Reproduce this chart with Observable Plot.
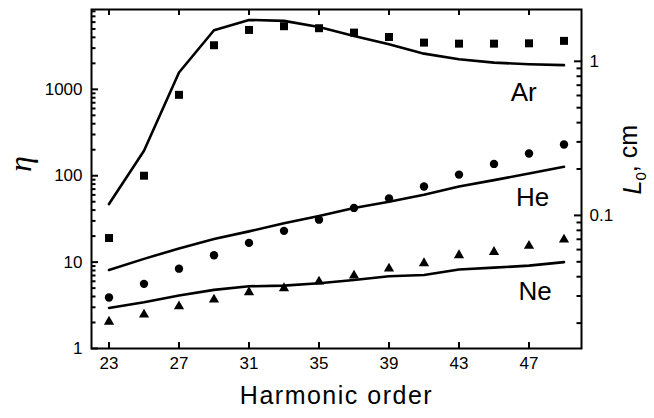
<!DOCTYPE html>
<html><head><meta charset="utf-8">
<script src="https://cdn.jsdelivr.net/npm/d3@7"></script>
<script src="https://cdn.jsdelivr.net/npm/@observablehq/plot@0.6"></script>
<style>
body{margin:0;background:#fff}
#chart svg{display:block;background:#fff}
</style>
</head><body><div id="chart"></div>
<script>
// Harmonic orders
const harmonics = [23, 25, 27, 29, 31, 33, 35, 37, 39, 41, 43, 45, 47, 49];
// Measured (symbols)
const arMeasured = [19, 100, 864, 3240, 4870, 5380, 5100, 4540, 4040, 3475, 3380, 3380, 3410, 3640];
const heMeasured = [3.9, 5.6, 8.4, 12, 16.7, 23, 31, 42.4, 54.7, 75, 103, 137, 181, 230];
const neMeasured = [2.04, 2.47, 3.08, 3.68, 4.48, 4.98, 5.95, 6.98, 8.4, 9.7, 12, 13.1, 15.4, 18.2];
// Calculated (lines)
const arLine = [47, 195, 1565, 4830, 6360, 6200, 5280, 4150, 3330, 2590, 2230, 2040, 1955, 1905];
const heLine = [8.1, 10.9, 14.4, 18.5, 22.7, 28.1, 34.2, 42.4, 50, 60.3, 75, 89, 106, 127];
const neLine = [2.95, 3.43, 4.1, 4.77, 5.25, 5.35, 5.69, 6.2, 6.86, 7.1, 8.2, 8.63, 9.1, 10];

const gases = ["Ar", "He", "Ne"];
const gasLabelX = [46.7, 47.2, 47.35];
const gasLabelY = [920, 56, 4.6];

// Axis ticks
const xTicks = [23, 27, 31, 35, 39, 43, 47];
const etaMajorTicks = [1, 10, 100, 1000];
const etaMinorTicks = [2,3,4,5,6,7,8,9, 20,30,40,50,60,70,80,90, 200,300,400,500,600,700,800,900, 2000,3000,4000,5000,6000,7000,8000];
const l0MajorTicks = [0.1, 1];
const l0MajorLabels = ["0.1", "1"];
const l0MinorTicks = [0.02,0.03,0.04,0.05,0.06,0.07,0.08,0.09, 0.2,0.3,0.4,0.5,0.6,0.7,0.8,0.9];

// right (L0) axis expressed on the eta scale
const l0ToEta = v => Math.pow(10, 3.3245 + 1.7838 * Math.log10(v));
const rightMajor = l0MajorTicks.map(l0ToEta);
const rightMinor = l0MinorTicks.map(l0ToEta);
const rightLabels = rightMajor.map((v, i) => ({v, t: l0MajorLabels[i]}));

const measured = [arMeasured, heMeasured, neMeasured].flatMap((arr, g) =>
  arr.map((v, i) => ({gas: gases[g], h: harmonics[i], v})));
const calc = [arLine, heLine, neLine].flatMap((arr, g) =>
  arr.map((v, i) => ({gas: gases[g], h: harmonics[i], v})));
const labels = gases.map((g, i) => ({g, x: gasLabelX[i], y: gasLabelY[i]}));

const font = "'Liberation Sans', Arial, sans-serif";
const W = 654, H = 418, mL = 91, mR = 73, mT = 9, mB = 70;
const innerW = W - mL - mR, innerH = H - mT - mB;
const tw = 2;

const plot = Plot.plot({
  width: W,
  height: H,
  marginLeft: mL,
  marginRight: mR,
  marginTop: mT,
  marginBottom: mB,
  style: {fontFamily: font, background: "#fff", color: "#000"},
  x: {domain: [22, 50], axis: null},
  y: {type: "log", domain: [1, 8400], axis: null},
  marks: [
    // inward ticks
    Plot.ruleX(xTicks, {x: d => d, insetTop: innerH - 6, stroke: "#000", strokeWidth: tw}),
    Plot.ruleX(xTicks, {x: d => d, insetBottom: innerH - 6, stroke: "#000", strokeWidth: tw}),
    Plot.ruleY(etaMajorTicks, {y: d => d, insetRight: innerW - 7, stroke: "#000", strokeWidth: tw}),
    Plot.ruleY(etaMinorTicks, {y: d => d, insetRight: innerW - 4.5, stroke: "#000", strokeWidth: tw}),
    Plot.ruleY(rightMajor, {y: d => d, insetLeft: innerW - 7, stroke: "#000", strokeWidth: tw}),
    Plot.ruleY(rightMinor, {y: d => d, insetLeft: innerW - 4.5, stroke: "#000", strokeWidth: tw}),
    // tick labels
    Plot.text(xTicks, {x: d => d, frameAnchor: "bottom", dy: 20, fontSize: 17, text: d => String(d)}),
    Plot.text(etaMajorTicks, {y: d => d, frameAnchor: "left", textAnchor: "end", dx: -9, fontSize: 17, text: d => String(d)}),
    Plot.text(rightLabels, {y: "v", frameAnchor: "right", textAnchor: "start", dx: 8, fontSize: 17, text: "t"}),
    Plot.frame({stroke: "#000", strokeWidth: 2}),
    Plot.line(calc, {x: "h", y: "v", z: "gas", stroke: "#000", strokeWidth: 2.6}),
    Plot.dot(measured.filter(d => d.gas === "Ar"), {x: "h", y: "v", symbol: "square", fill: "#000", r: 4.5}),
    Plot.dot(measured.filter(d => d.gas === "He"), {x: "h", y: "v", symbol: "circle", fill: "#000", r: 4.2}),
    Plot.dot(measured.filter(d => d.gas === "Ne"), {x: "h", y: "v", symbol: "triangle", fill: "#000", r: 3.8}),
    Plot.text(labels, {x: "x", y: "y", text: "g", fontSize: 26, textAnchor: "middle"}),
    Plot.text(["Harmonic order"], {frameAnchor: "bottom", dy: 55, fontSize: 25, text: d => d}),
    Plot.text(["η"], {frameAnchor: "left", dx: -71, dy: -7, rotate: -90, fontSize: 32, fontStyle: "italic", fontFamily: "'Liberation Serif', 'DejaVu Serif', serif", text: d => d}),
    Plot.text(["L0, cm"], {frameAnchor: "right", dx: 51, dy: -54, rotate: -90, fontSize: 25, text: d => d})
  ]
});
document.getElementById("chart").appendChild(plot);

// subscript & italic for L0 label
d3.select(plot).selectAll("text").filter(function(){ return this.textContent === "L0, cm"; }).each(function(){
  const t = d3.select(this);
  t.text(null);
  t.append("tspan").attr("font-style", "italic").text("L");
  t.append("tspan").attr("font-size", "0.6em").attr("dy", "0.35em").text("0");
  t.append("tspan").attr("dy", "-0.35em").text(", cm");
});
d3.select(plot).selectAll("text").filter(function(){ return this.textContent === "Harmonic order"; }).attr("letter-spacing", "1.5px");
</script>
</body></html>
